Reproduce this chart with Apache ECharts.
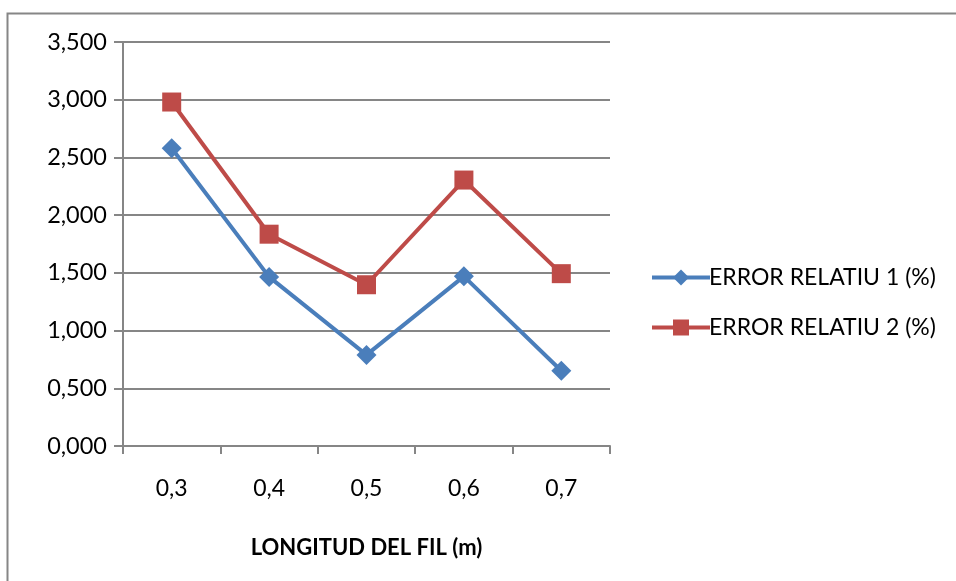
<!DOCTYPE html>
<html>
<head>
<meta charset="utf-8">
<script src="https://cdn.jsdelivr.net/npm/echarts@6/dist/echarts.min.js"></script>
<style>html,body{margin:0;padding:0;background:#fff}#c{width:956px;height:581px}</style>
</head>
<body>
<div id="c"></div>
<script>
const categories = ['0,3', '0,4', '0,5', '0,6', '0,7'];
const series1Name = 'ERROR RELATIU 1 (%)';
const series2Name = 'ERROR RELATIU 2 (%)';
const series1 = [2.58, 1.465, 0.789, 1.47, 0.652];
const series2 = [2.98, 1.835, 1.397, 2.304, 1.493];
const xAxisTitle = 'LONGITUD DEL FIL (m)';

const FONT = 'Lato, "Open Sans", sans-serif';
const chart = echarts.init(document.getElementById('c'));
chart.setOption({
  animation: false,
  backgroundColor: '#fff',
  graphic: [
    { type: 'rect', shape: { x: 7.5, y: 13.5, width: 1000, height: 1000 }, style: { fill: 'none', stroke: '#868686', lineWidth: 2 } }
  ],
  grid: { left: 123, right: 346, top: 42, bottom: 135, containLabel: false },
  legend: {
    orient: 'vertical',
    left: 645,
    top: 261,
    itemWidth: 58,
    itemHeight: 20,
    itemGap: 27,
    lineStyle: { width: 4 },
    textStyle: { fontFamily: FONT, fontSize: 23, color: '#000', padding: [0, 0, 0, -6] },
    data: [series1Name, series2Name]
  },
  xAxis: {
    type: 'category',
    data: categories,
    boundaryGap: true,
    name: xAxisTitle,
    nameLocation: 'middle',
    nameGap: 91,
    nameTextStyle: { fontFamily: FONT, fontSize: 22, fontWeight: 'bold', color: '#000' },
    axisLine: { lineStyle: { color: '#868686', width: 2 } },
    axisTick: { show: true, length: 8, lineStyle: { color: '#868686', width: 2 } },
    axisLabel: { fontFamily: FONT, fontSize: 23, color: '#000', margin: 31 }
  },
  yAxis: {
    type: 'value',
    min: 0,
    max: 3.5,
    interval: 0.5,
    axisLine: { show: true, lineStyle: { color: '#868686', width: 2 } },
    axisTick: { show: true, length: 9, lineStyle: { color: '#868686', width: 2 } },
    splitLine: { lineStyle: { color: '#868686', width: 2 } },
    axisLabel: {
      fontFamily: FONT, fontSize: 23.5, color: '#000', margin: 16,
      formatter: v => v.toFixed(3).replace('.', ',')
    }
  },
  series: [
    {
      name: series1Name, type: 'line', data: series1,
      symbol: 'diamond', symbolSize: 20,
      lineStyle: { color: '#4a7ebb', width: 4 },
      itemStyle: { color: '#4a7ebb' }
    },
    {
      name: series2Name, type: 'line', data: series2,
      symbol: 'rect', symbolSize: 19,
      lineStyle: { color: '#be4b48', width: 4 },
      itemStyle: { color: '#be4b48' }
    }
  ]
});
</script>
</body>
</html>
